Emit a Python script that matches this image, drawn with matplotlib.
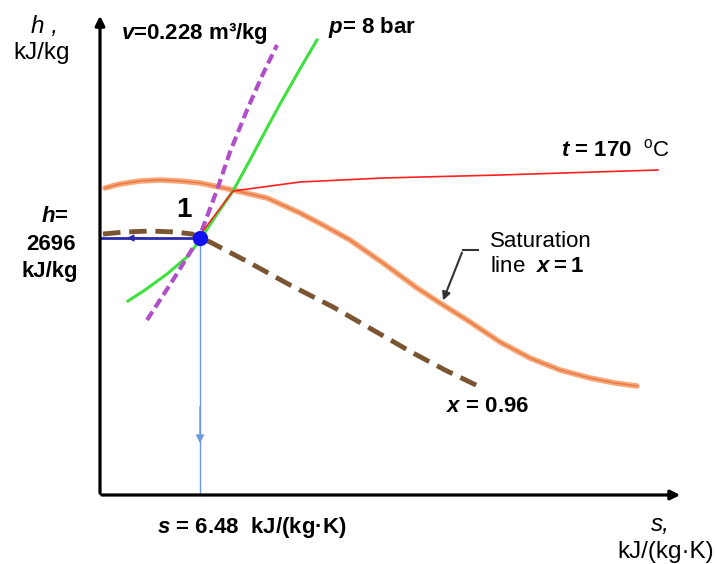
import matplotlib.pyplot as plt

plt.rcParams['font.family'] = ['Liberation Sans', 'DejaVu Sans']
plt.rcParams['mathtext.fontset'] = 'custom'
plt.rcParams['mathtext.it'] = 'Liberation Sans:italic:bold'
plt.rcParams['mathtext.rm'] = 'Liberation Sans'
plt.rcParams['mathtext.bf'] = 'Liberation Sans:bold'

# schematic h-s diagram, s in kJ/(kg K), h in kJ/kg
s1, h1 = 6.48, 2696

# saturation line x = 1
s_sat = [5.53, 5.68, 5.88, 6.08, 6.28, 6.48, 6.81, 7.15, 7.48, 7.71, 7.98, 8.31, 8.65,
         8.88, 9.15, 9.48, 9.78, 10.08, 10.38, 10.63, 10.85]
h_sat = [2746, 2750, 2753, 2754, 2753, 2751, 2744, 2736, 2721, 2709, 2694, 2671, 2646,
         2631, 2614, 2592, 2576, 2564, 2556, 2551, 2548]

# x = 0.96
s_x96 = [5.51, 5.73, 5.98, 6.23, 6.40, 6.48, 6.58, 6.98, 7.38, 7.81, 8.21, 8.61, 8.93, 9.28]
h_x96 = [2700, 2702, 2703, 2702, 2700, 2696, 2692, 2671, 2649, 2627, 2604, 2581, 2564, 2547]

# p = 8 bar
s_p = [5.76, 5.93, 6.15, 6.35, 6.48, 6.63, 6.81, 6.98, 7.15, 7.28, 7.40, 7.52, 7.65]
h_p = [2633, 2644, 2660, 2677, 2694, 2717, 2743, 2774, 2806, 2830, 2851, 2872, 2894]

# v = 0.228 m3/kg
s_v = [5.95, 6.21, 6.47, 6.65, 6.78, 6.95, 7.10, 7.25]
h_v = [2614, 2654, 2696, 2744, 2782, 2824, 2858, 2889]

# t = 170 C
s_t = [6.51, 6.81, 7.48, 8.31, 9.48, 11.06]
h_t = [2703, 2743, 2752, 2756, 2759, 2764]

# axis limits of the sketch
s_min, s_max = 5.48, 11.31
h_min, h_max = 2439, 2921

fig = plt.figure(figsize=(7.17, 5.64), dpi=100)
ax = fig.add_axes([0, 0, 1, 1])
ax.set_xlim(4.48, 11.65)
ax.set_ylim(2370, 2934)
ax.axis('off')

# axes with arrows
ax.annotate('', xy=(s_min, h_max), xytext=(s_min, h_min - 1),
            arrowprops=dict(arrowstyle='-|>', color='black', lw=2.3, mutation_scale=14))
ax.annotate('', xy=(s_max, h_min), xytext=(s_min - 0.01, h_min),
            arrowprops=dict(arrowstyle='-|>', color='black', lw=2.3, mutation_scale=14))

# curves
ax.plot(s_sat, h_sat, color='#f6a878', lw=4, solid_capstyle='round', solid_joinstyle='round')
ax.plot(s_sat, h_sat, color='#e8703a', lw=1.2, alpha=0.8)
ax.plot(s_x96, h_x96, color='#7b5531', lw=3.5, dashes=(3.6, 1.8))
ax.plot(s_p, h_p, color='#3ee03e', lw=2.2)
ax.plot(s_v, h_v, color='#b04fc8', lw=3, dashes=(2.4, 1.2))
ax.plot(s_t, h_t, color='#ff2020', lw=1.2)

# state point 1 and its projections
ax.plot([s_min, s1], [h1, h1], color='#2a2aa8', lw=2)
ax.plot([s1, s1], [h1, h_min], color='#6a9be0', lw=1)
ax.annotate('', xy=(s1, 2488), xytext=(s1, 2530),
            arrowprops=dict(arrowstyle='-|>', color='#6a9be0', lw=1, mutation_scale=12))
ax.annotate('', xy=(5.72, h1), xytext=(5.95, h1),
            arrowprops=dict(arrowstyle='-|>', color='#2a2aa8', lw=1, mutation_scale=10))
ax.plot(s1, h1, 'o', color='#1010f0', ms=10)

fs = 16
fu = 17.5
ax.text(4.93, 2907, 'h ,', fontsize=fu, style='italic', ha='center', va='center')
ax.text(4.90, 2881, 'kJ/kg', fontsize=fu, ha='center', va='center')
ax.text(6.42, 2901, r'$v$=0.228 m³/kg', fontsize=fs, fontweight='bold', ha='center', va='center')
ax.text(8.20, 2906, r'$p$= 8 bar', fontsize=fs, fontweight='bold', ha='center', va='center')
ax.text(10.63, 2784, r'$t$ = 170  $^{\rm o}\mathrm{C}$', fontsize=fs, fontweight='bold',
        ha='center', va='center')
ax.text(9.38, 2680, 'Saturation\nline  $x\\mathbf{=1}$', fontsize=fs, ha='left', va='center',
        linespacing=1.2)
ax.text(9.36, 2527, r'$x$ = 0.96', fontsize=fs, fontweight='bold', ha='center', va='center')
ax.text(5.03, 2717, r'$h$=', fontsize=fs, fontweight='bold', ha='center', va='center')
ax.text(4.99, 2689, '2696', fontsize=fs, fontweight='bold', ha='center', va='center')
ax.text(4.98, 2662, 'kJ/kg', fontsize=fs, fontweight='bold', ha='center', va='center')
ax.text(6.32, 2724, '1', fontsize=20, fontweight='bold', ha='center', va='center')
ax.text(7.00, 2406, r'$s$ = 6.48  kJ/(kg·K)', fontsize=fs, fontweight='bold', ha='center', va='center')
ax.text(11.08, 2409, 's,', fontsize=fu, style='italic', ha='center', va='center')
ax.text(11.14, 2382, 'kJ/(kg·K)', fontsize=fu, ha='center', va='center')

# pointer to saturation line
ax.plot([9.26, 9.11], [2684, 2684], color='#333333', lw=1.5)
ax.annotate('', xy=(8.90, 2631), xytext=(9.11, 2684),
            arrowprops=dict(arrowstyle='-|>', color='#333333', lw=1.5, mutation_scale=12))

fig.savefig('out.png', dpi=100)
